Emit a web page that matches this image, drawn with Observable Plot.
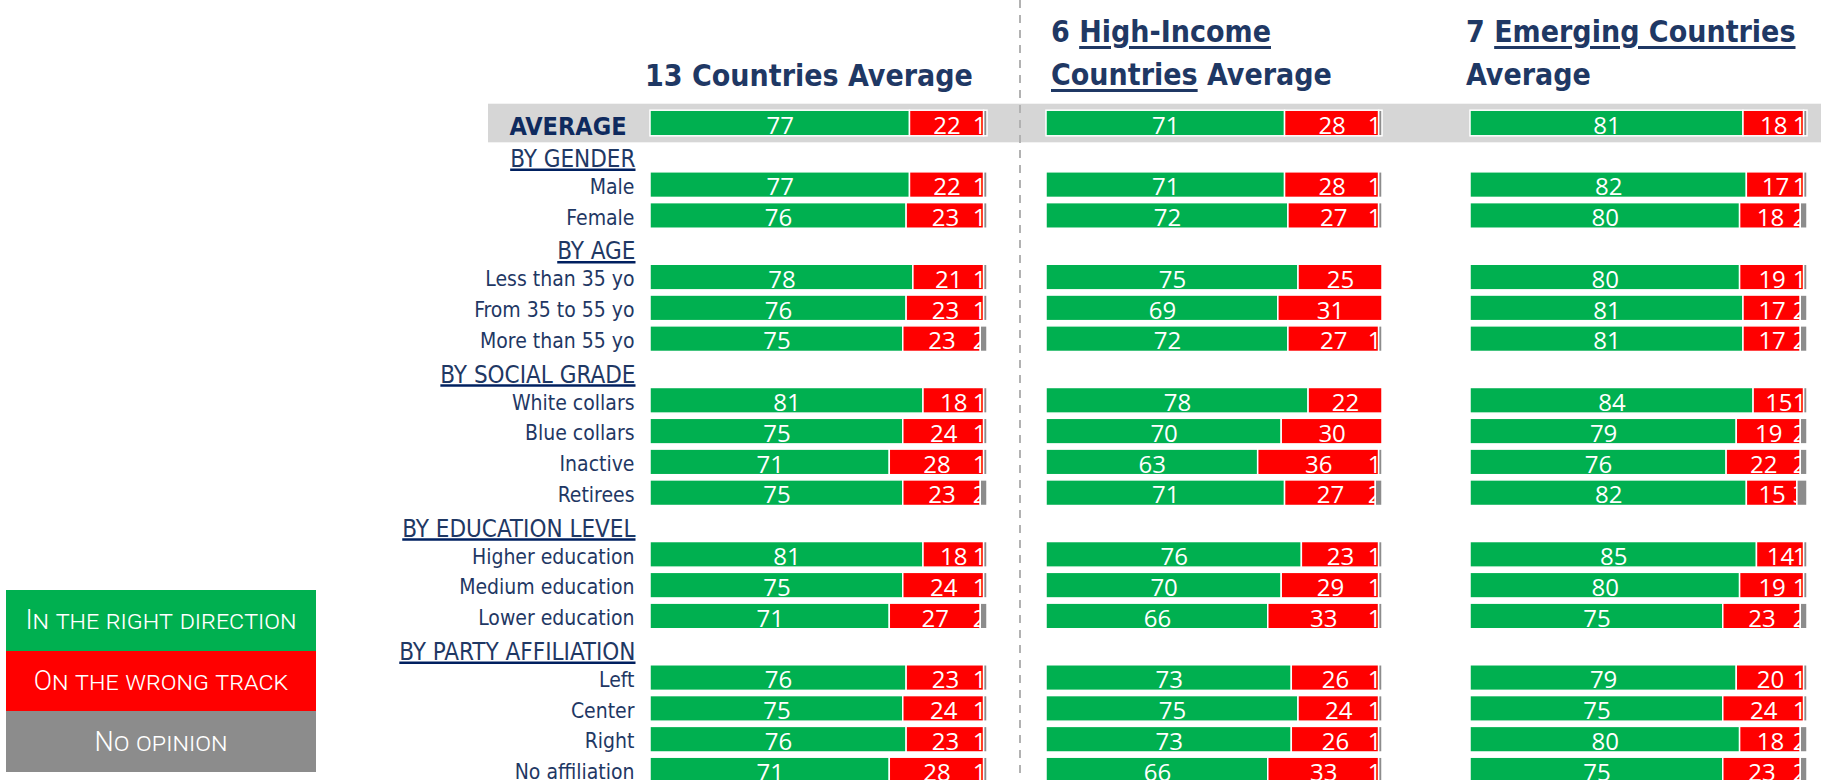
<!DOCTYPE html>
<html>
<head>
<meta charset="utf-8">
<script src="https://cdn.jsdelivr.net/npm/d3@7"></script>
<script src="https://cdn.jsdelivr.net/npm/@observablehq/plot@0.6"></script>
<style>
html, body { margin: 0; padding: 0; overflow: hidden; background: #fff; }
#root { position: relative; width: 1827px; height: 780px; overflow: hidden; }
#root svg { position: absolute; left: 0; top: 0; }
.title { position: absolute; font-family: "DejaVu Sans Condensed", "DejaVu Sans", sans-serif; font-stretch: condensed;
  font-weight: bold; font-size: 30px; line-height: 43.3px; color: #1f3864; white-space: nowrap; }
.u { text-decoration: underline; text-decoration-thickness: 2.5px; text-underline-offset: 4px; }
.dash { position: absolute; left: 1019px; top: 0; width: 2px; height: 780px;
  background: repeating-linear-gradient(to bottom, #b2b2b2 0 8px, transparent 8px 15px); }
.legend { position: absolute; left: 6px; top: 590px; width: 310px; }
.legend div { height: 60.7px; display: flex; align-items: center; justify-content: center; color: #fff;
  font-family: Roboto, sans-serif; font-weight: 300; font-variant: small-caps; font-size: 27px; }
</style>
</head>
<body>
<div id="root"></div>
<script>
// ---- data ----
const rowOrder = ["AVERAGE", "BY GENDER", "Male", "Female", "BY AGE", "Less than 35 yo", "From 35 to 55 yo",
  "More than 55 yo", "BY SOCIAL GRADE", "White collars", "Blue collars", "Inactive", "Retirees",
  "BY EDUCATION LEVEL", "Higher education", "Medium education", "Lower education",
  "BY PARTY AFFILIATION", "Left", "Center", "Right", "No affiliation"];
const sections = ["BY GENDER", "BY AGE", "BY SOCIAL GRADE", "BY EDUCATION LEVEL", "BY PARTY AFFILIATION"];
const labels = ["AVERAGE", "Male", "Female", "Less than 35 yo", "From 35 to 55 yo", "More than 55 yo",
  "White collars", "Blue collars", "Inactive", "Retirees", "Higher education", "Medium education",
  "Lower education", "Left", "Center", "Right", "No affiliation"];
const opinions = ["In the right direction", "On the wrong track", "No opinion"];

const right13 = [77, 77, 76, 78, 76, 75, 81, 75, 71, 75, 81, 75, 71, 76, 75, 76, 71];
const wrong13 = [22, 22, 23, 21, 23, 23, 18, 24, 28, 23, 18, 24, 27, 23, 24, 23, 28];
const none13  = [1, 1, 1, 1, 1, 2, 1, 1, 1, 2, 1, 1, 2, 1, 1, 1, 1];

const rightHigh = [71, 71, 72, 75, 69, 72, 78, 70, 63, 71, 76, 70, 66, 73, 75, 73, 66];
const wrongHigh = [28, 28, 27, 25, 31, 27, 22, 30, 36, 27, 23, 29, 33, 26, 24, 26, 33];
const noneHigh  = [1, 1, 1, 0, 0, 1, 0, 0, 1, 2, 1, 1, 1, 1, 1, 1, 1];

const rightEm = [81, 82, 80, 80, 81, 81, 84, 79, 76, 82, 85, 80, 75, 79, 75, 80, 75];
const wrongEm = [18, 17, 18, 19, 17, 17, 15, 19, 22, 15, 14, 19, 23, 20, 24, 18, 23];
const noneEm  = [1, 1, 2, 1, 2, 2, 1, 2, 2, 3, 1, 1, 2, 1, 1, 2, 2];

// ---- layout / style ----
const W = 1827, H = 790;
const colors = ["#00b050", "#ff0000", "#8c8c8c"];
const navy = "#1f3864";
const yScale = {domain: rowOrder, range: [107.6, 785.4], padding: 0, round: false, axis: null};
const colorScale = {domain: opinions, range: colors};
const condensed = "'DejaVu Sans Condensed', 'DejaVu Sans', sans-serif";
const numFont = "'Open Sans', sans-serif";

const root = document.getElementById("root");

// background band behind the AVERAGE row
root.appendChild(Plot.plot({
  width: W, height: H, marginLeft: 488, marginRight: 6, marginTop: 0, marginBottom: 0,
  style: {background: "transparent", overflow: "visible"},
  x: {domain: [0, 1], axis: null}, y: yScale,
  marks: [Plot.cell(["AVERAGE"], {y: d => d, fill: "#d6d6d6", insetTop: -3.9, insetBottom: -3.9})]
}));

const dash = document.createElement("div");
dash.className = "dash";
root.appendChild(dash);

function segments(right, wrong, none) {
  const out = [];
  labels.forEach((lab, i) => {
    const r = right[i], w = wrong[i], n = none[i];
    out.push({lab, op: opinions[0], x1: 0, x2: r, v: r});
    out.push({lab, op: opinions[1], x1: r, x2: r + w, v: w});
    out.push({lab, op: opinions[2], x1: r + w, x2: r + w + n, v: n});
  });
  return out;
}

function panel(right, wrong, none, left, rightEdge, withLabels) {
  const segs = segments(right, wrong, none);
  const main = segs.filter(d => d.op !== opinions[2]);
  const gray = segs.filter(d => d.op === opinions[2] && d.v > 0);
  const marks = [
    Plot.barX(main, {x1: "x1", x2: "x2", y: "lab", fill: "op", stroke: "white", strokeWidth: 1.5, insetTop: 2.6, insetBottom: 2.6}),
    Plot.text(main, {x: d => (d.x1 + d.x2) / 2, y: "lab", text: d => String(d.v), fill: "white",
      fontSize: 24, fontFamily: numFont, dy: 2.5}),
    Plot.text(gray, {x: "x2", y: "lab", text: d => String(d.v), fill: "white", textAnchor: "end",
      fontSize: 24, fontFamily: numFont, dy: 2.5, dx: -1}),
    Plot.barX(gray, {x1: "x1", x2: "x2", y: "lab", fill: "op", stroke: "white", strokeWidth: 1.5, insetTop: 2.6, insetBottom: 2.6})
  ];
  if (withLabels) {
    marks.push(
      Plot.text(labels.slice(1), {y: d => d, text: d => d, frameAnchor: "left", textAnchor: "end", dx: -16, dy: 2,
        fill: navy, fontSize: 21, fontFamily: condensed}),
      Plot.text(["AVERAGE"], {y: d => d, text: d => d, frameAnchor: "left", textAnchor: "end", dx: -24, dy: 3,
        fill: "#0f2a5e", fontSize: 25, fontWeight: "bold", fontFamily: condensed}),
      Plot.text(sections, {y: d => d, text: d => d, frameAnchor: "left", textAnchor: "end", dx: -15, dy: 5,
        fill: navy, fontSize: 24, fontFamily: condensed})
    );
  }
  const svg = Plot.plot({
    width: W, height: H, marginLeft: left, marginRight: W - rightEdge, marginTop: 0, marginBottom: 0,
    style: {background: "transparent", overflow: "visible"},
    x: {domain: [0, 100], axis: null},
    y: yScale,
    color: colorScale,
    marks
  });
  root.appendChild(svg);
  // underline the section headers
  svg.querySelectorAll("text").forEach(t => {
    if (!sections.includes(t.textContent)) return;
    const b = t.getBBox();
    const yLine = b.y + b.height - 0.236 * 24 + 2.5;
    const line = document.createElementNS("http://www.w3.org/2000/svg", "line");
    line.setAttribute("x1", b.x);
    line.setAttribute("x2", b.x + b.width);
    line.setAttribute("y1", yLine);
    line.setAttribute("y2", yLine);
    line.setAttribute("stroke", "#002060");
    line.setAttribute("stroke-width", 2.5);
    const tr = t.getAttribute("transform");
    if (tr) line.setAttribute("transform", tr);
    t.parentNode.appendChild(line);
  });
}

panel(right13, wrong13, none13, 650, 987, true);
panel(rightHigh, wrongHigh, noneHigh, 1046, 1382, false);
panel(rightEm, wrongEm, noneEm, 1470, 1807, false);

// titles
function title(html, left, top) {
  const d = document.createElement("div");
  d.className = "title";
  d.style.left = left + "px";
  d.style.top = top + "px";
  d.innerHTML = html;
  root.appendChild(d);
}
title("13 Countries Average", 645, 54);
title('6 <span class="u">High-Income</span><br><span class="u">Countries</span> Average', 1051, 9.7);
title('7 <span class="u">Emerging Countries</span><br>Average', 1466, 9.7);

// legend
const legend = document.createElement("div");
legend.className = "legend";
opinions.forEach((o, i) => {
  const item = document.createElement("div");
  item.style.background = colors[i];
  item.textContent = o;
  legend.appendChild(item);
});
root.appendChild(legend);
</script>
</body>
</html>
